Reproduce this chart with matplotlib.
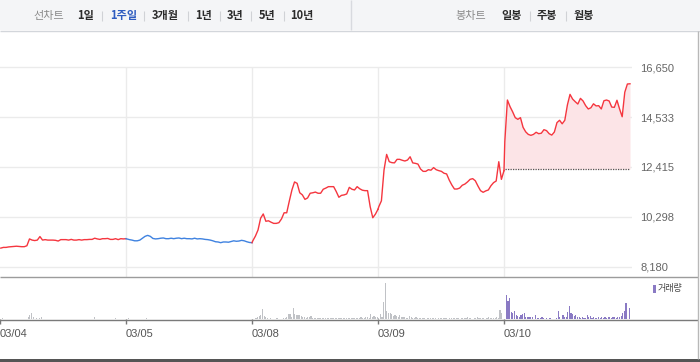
import numpy as np
import matplotlib
matplotlib.use('Agg')
import matplotlib.pyplot as plt
from matplotlib.lines import Line2D
from matplotlib.patches import Rectangle

plt.rcParams['font.family'] = ['Liberation Sans', 'Noto Sans CJK KR', 'DejaVu Sans']

# ---------------- data ----------------
day_labels = ['03/04', '03/05', '03/08', '03/09', '03/10']
day_rise = [True, False, True, True, True]
bars_per_day = 78

price_0304 = [8970, 9000, 9000, 9020, 9030, 9040, 9050, 9040, 9030, 9030, 9070, 9360, 9310, 9290, 9310,
              9460, 9310, 9330, 9310, 9310, 9310, 9300, 9270, 9330, 9330, 9330, 9310, 9340, 9310, 9310,
              9330, 9310, 9330, 9330, 9340, 9340, 9390, 9360, 9340, 9370, 9370, 9380, 9340, 9340, 9370,
              9330, 9370, 9360, 9370]
price_0305 = [9360, 9330, 9310, 9280, 9280, 9310, 9390, 9470, 9510, 9470, 9380, 9360, 9370, 9390, 9400,
              9370, 9370, 9390, 9370, 9390, 9400, 9370, 9390, 9370, 9370, 9360, 9390, 9360, 9370, 9360,
              9340, 9330, 9310, 9280, 9240, 9230, 9200, 9230, 9230, 9220, 9250, 9280, 9260, 9270, 9300,
              9280, 9240, 9210, 9200]
price_0308 = [9280, 9480, 9740, 10240, 10420, 10110, 10130, 10070, 10020, 10020, 10050, 10210, 10470, 10470,
              10970, 11440, 11780, 11720, 11320, 11230, 11040, 11100, 11300, 11320, 11350, 11300, 11300,
              11470, 11520, 11580, 11580, 11580, 11370, 11130, 11210, 11230, 11270, 11550, 11470, 11440,
              11580, 11490, 11430, 11410, 11410, 10730, 10260, 10410, 10620]
price_0309 = [10730, 10980, 12290, 12950, 12640, 12600, 12590, 12740, 12740, 12700, 12670, 12710, 12850,
              12590, 12570, 12540, 12330, 12230, 12230, 12300, 12280, 12390, 12300, 12260, 12230, 12150,
              12120, 11860, 11650, 11480, 11480, 11520, 11640, 11690, 11780, 11890, 11920, 11830, 11610,
              11410, 11340, 11400, 11440, 11620, 11750, 11820, 12640, 11890, 12260]
price_0310 = [13490, 15260, 14980, 14760, 14510, 14440, 14510, 14100, 13910, 13800, 13760, 13800, 13890,
              13830, 13850, 14000, 13960, 13830, 13770, 13900, 14300, 14400, 14250, 14400, 15050, 15500,
              15300, 15190, 15090, 15330, 15220, 15020, 14880, 14930, 15100, 15010, 15020, 14880, 15230,
              15260, 15220, 14960, 14950, 15250, 14880, 14550, 15590, 15940, 15950]
prev_close = 12320

vol_0304 = [0, 15, 0, 0, 0, 0, 0, 0, 0, 0,
            0, 0, 0, 0, 0, 0, 0, 27, 43, 67,
            25, 0, 12, 0, 15, 22, 0, 0, 0, 0,
            0, 0, 0, 0, 0, 0, 0, 0, 0, 0,
            0, 0, 0, 0, 0, 0, 0, 0, 0, 0,
            0, 0, 0, 0, 0, 0, 0, 0, 25, 0,
            0, 0, 0, 0, 0, 0, 0, 0, 0, 0,
            0, 12, 0, 0, 0, 0, 0, 0]
vol_0305 = [0, 12, 0, 0, 0, 0, 0, 0, 0, 0,
            0, 0, 12, 0, 0, 0, 0, 0, 0, 0,
            0, 0, 0, 0, 0, 0, 0, 0, 0, 0,
            0, 0, 0, 0, 0, 0, 0, 0, 0, 0,
            0, 0, 0, 0, 0, 0, 0, 0, 0, 0,
            0, 0, 0, 0, 0, 0, 0, 0, 0, 0,
            0, 0, 0, 0, 0, 0, 0, 0, 0, 0,
            0, 0, 0, 0, 0, 0, 0, 0]
vol_0308 = [0, 0, 10, 23, 37, 43, 100, 33, 20, 13,
            0, 10, 0, 0, 0, 10, 0, 0, 0, 10,
            13, 20, 53, 53, 27, 110, 53, 40, 43, 43,
            37, 23, 27, 17, 20, 23, 30, 13, 10, 15,
            10, 13, 10, 12, 15, 10, 13, 17, 10, 13,
            12, 10, 15, 13, 10, 12, 15, 10, 13, 10,
            12, 10, 13, 15, 10, 13, 10, 20, 13, 10,
            27, 20, 13, 53, 27, 33, 20, 27]
vol_0309 = [13, 53, 20, 175, 365, 85, 67, 63, 57, 37,
            47, 33, 27, 40, 27, 20, 27, 10, 13, 33,
            23, 10, 13, 23, 13, 10, 17, 10, 13, 0,
            10, 13, 17, 10, 13, 10, 0, 13, 10, 17,
            13, 10, 13, 0, 10, 17, 13, 10, 10, 13,
            0, 13, 10, 10, 17, 23, 13, 10, 0, 13,
            10, 20, 13, 10, 13, 10, 0, 10, 27, 13,
            10, 17, 13, 27, 10, 93, 67, 0]
vol_0310 = [0, 247, 187, 213, 77, 67, 83, 47, 33, 27,
            40, 53, 60, 27, 27, 20, 27, 20, 0, 43,
            17, 17, 17, 20, 17, 0, 17, 0, 17, 0,
            0, 0, 17, 83, 27, 0, 43, 23, 27, 77,
            137, 67, 50, 37, 40, 27, 23, 17, 20, 17,
            17, 40, 27, 33, 17, 20, 17, 17, 23, 17,
            20, 17, 23, 17, 20, 23, 17, 20, 23, 17,
            20, 20, 33, 60, 87, 165, 0, 112]

y_ticks = [8180, 10298, 12415, 14533, 16650]

chart_types_left = ['1일', '1주일', '3개월', '1년', '3년', '5년', '10년']
chart_types_right = ['일봉', '주봉', '월봉']

prices = [price_0304, price_0305, price_0308, price_0309, price_0310]
vols = [vol_0304, vol_0305, vol_0308, vol_0309, vol_0310]

# ---------------- layout ----------------
W, H = 700, 362
fig = plt.figure(figsize=(7, 3.62), dpi=100)
fig.patch.set_facecolor('white')


def fx(px):
    return px / W


def fy(py):
    return 1 - py / H


def fline(x0, x1, y0, y1, color, lw=1.0, ls='-'):
    fig.add_artist(Line2D([fx(x0), fx(x1)], [fy(y0), fy(y1)], transform=fig.transFigure,
                          color=color, lw=lw, ls=ls, solid_capstyle='butt'))


# header
fig.add_artist(Rectangle((0, fy(30)), 1, 30 / H, transform=fig.transFigure,
                         facecolor='#f4f5f7', edgecolor='none'))
fline(0, 700, 30.5, 30.5, '#d3d6db')
fline(351, 351, 0, 30, '#d8dadf')

kfont = ['Noto Sans CJK KR', 'DejaVu Sans']
hfs = 8
hy = fy(15.5)
fig.text(fx(33), hy, '선차트', family=kfont, fontsize=hfs, color='#8a8a8a', va='center')
left_x = [77, 110, 152, 195, 227, 259, 290]
for lab, x in zip(chart_types_left, left_x):
    col = '#2e5cc0' if lab == '1주일' else '#2b2b2b'
    fig.text(fx(x), hy, lab, family=kfont, fontsize=hfs, weight='bold', color=col, va='center')
for sx in [102, 144, 187.5, 220, 251, 283.5]:
    fline(sx, sx, 10.5, 20.5, '#d0d2d6', lw=0.8)
fig.text(fx(455), hy, '봉차트', family=kfont, fontsize=hfs, color='#8a8a8a', va='center')
for lab, x in zip(chart_types_right, [501, 537, 574]):
    fig.text(fx(x), hy, lab, family=kfont, fontsize=hfs, weight='bold', color='#2b2b2b', va='center')
for sx in [530, 566]:
    fline(sx, sx, 10.5, 20.5, '#d0d2d6', lw=0.8)

# ---------------- price panel ----------------
n_total = bars_per_day * len(day_labels)
x_right_px = 632
xlim = (0, n_total * x_right_px / 630.0)

top_px, bot_px = 60, 276.7
ppv = (266.7 - 67.3) / (y_ticks[-1] - y_ticks[0])
ymax = y_ticks[-1] + (67.3 - top_px) / ppv
ymin = y_ticks[0] - (bot_px - 266.7) / ppv

ax = fig.add_axes([0, fy(bot_px), fx(x_right_px), (bot_px - top_px) / H])
ax.set_xlim(*xlim)
ax.set_ylim(ymin, ymax)
for s in ax.spines.values():
    s.set_visible(False)
ax.set_xticks([])
ax.yaxis.tick_right()
ax.set_yticks(y_ticks)
ax.set_yticklabels([f'{v:,}' for v in y_ticks])
ax.tick_params(axis='y', length=0, pad=6, labelsize=8, labelcolor='#666666')

for v in y_ticks:
    ax.axhline(v, color='#ebebeb', lw=1, zorder=0)
day_starts = [d * bars_per_day for d in range(len(day_labels))]
ax.vlines(day_starts[1:], ymin, y_ticks[-1], color='#ebebeb', lw=1, zorder=0)

red = '#f5363f'
blue = '#3f82e0'
prev_pt = None
for d, vals in enumerate(prices):
    xs = d * bars_per_day + np.linspace(0.5, bars_per_day, len(vals))
    ys = np.array(vals, dtype=float)
    if prev_pt is not None:
        px_ = np.concatenate([[prev_pt[0]], xs])
        py_ = np.concatenate([[prev_pt[1]], ys])
    else:
        px_, py_ = xs, ys
    ax.plot(px_, py_, color=red if day_rise[d] else blue, lw=1.0, zorder=3, antialiased=True)
    prev_pt = (xs[-1], ys[-1])
    if d == len(prices) - 1:
        ax.fill_between(xs, prev_close, ys, color='#fce4e7', lw=0, zorder=1)
        ax.plot([xs[0], xs[-1]], [prev_close, prev_close], color='#555555', lw=0.9,
                ls=(0, (1, 1)), zorder=2)

fline(0, 698, bot_px, bot_px, '#9c9c9c')

# ---------------- volume panel ----------------
vtop, vbot = 277.5, 319.3
axv = fig.add_axes([0, fy(vbot), fx(x_right_px), (vbot - vtop) / H])
axv.set_xlim(*xlim)
axv.set_ylim(0, 418)
for s in axv.spines.values():
    s.set_visible(False)
axv.set_yticks([])
for d, vals in enumerate(vols):
    xs = d * bars_per_day + np.arange(len(vals)) + 0.5
    axv.bar(xs, vals, width=0.72, color='#8a7ac4' if d == len(vols) - 1 else '#c0c2c6',
            lw=0, zorder=2)
axv.set_xticks(day_starts)
axv.set_xticklabels(day_labels, ha='left')
axv.tick_params(axis='x', length=3.8, width=1.0, color='#777777', pad=3,
                labelsize=8, labelcolor='#555555')
fline(0, 698, vbot + 0.3, vbot + 0.3, '#7a7a7a')

# legend
fig.add_artist(Rectangle((fx(652.5), fy(292.5)), 3 / W, 7.5 / H, transform=fig.transFigure,
                         facecolor='#8a7ac4', edgecolor='none'))
fig.text(fx(658), fy(289), '거래량', family=kfont, fontsize=6.5, color='#444444', va='center')

# borders
fline(697.5, 697.5, 30.5, 359, '#b8b8b8')
fig.add_artist(Rectangle((0, 0), 1, 3 / H, transform=fig.transFigure,
                         facecolor='#555555', edgecolor='none'))

fig.savefig('out.png', dpi=100)
